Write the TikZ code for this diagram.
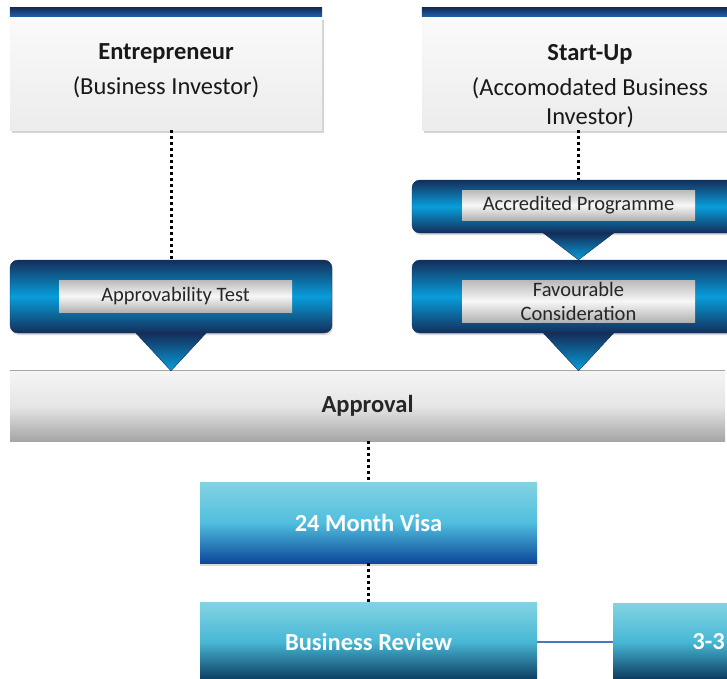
\documentclass[tikz,border=0pt]{standalone}
\usepackage{fontspec}
\setmainfont{Carlito}
\usetikzlibrary{positioning,shadows}

\definecolor{navy}{RGB}{20,46,90}
\definecolor{brightblue}{RGB}{8,158,218}
\definecolor{bandblue}{RGB}{34,98,168}
\definecolor{lightcyan}{RGB}{131,211,227}
\definecolor{midcyan}{RGB}{80,190,222}
\definecolor{deepblue}{RGB}{12,72,155}
\definecolor{deepteal}{RGB}{10,56,94}
\definecolor{linkblue}{RGB}{70,120,190}

\begin{document}
\begin{tikzpicture}[x=1pt,y=-1pt,
	header/.style = {rectangle, minimum height=113pt, top color=gray!4, bottom color=gray!15, drop shadow={shadow xshift=1.5pt, shadow yshift=-3pt, opacity=.35}},
	headtext/.style = {inner sep=0pt, align=center, text=black!90, font=\fontsize{24.5}{29}\selectfont},
	band/.style = {top color=navy, bottom color=bandblue},
	bluebox/.style = {rectangle, rounded corners=8pt, draw=navy, thin, top color=navy, bottom color=navy, middle color=brightblue, drop shadow={shadow xshift=1pt, shadow yshift=-2pt, opacity=.3}},
	graylabel/.style = {rectangle, minimum width=233pt, inner sep=0pt, align=center, text=black!85, font=\fontsize{20.5}{24}\selectfont, top color=gray!55, bottom color=gray!60, middle color=gray!6},
	tri/.style = {top color=navy, bottom color=brightblue, draw=navy, thin},
	visabox/.style = {rectangle, minimum width=337pt, text=white, font=\fontsize{24.5}{29}\selectfont\bfseries, drop shadow={shadow xshift=0pt, shadow yshift=-3pt, opacity=.3}},
	dots/.style = {line width=3pt, dash pattern=on 3pt off 3pt}]
	
	\useasboundingbox (0,0) rectangle (727,678);
	\clip (0,0) rectangle (727,678);
	
	%draws the two headers with their blue bands
	\node[header, minimum width=312pt] (ent) at (166,73.5) {};
	\shade[band] (ent.north west) rectangle ([yshift=9pt]ent.north east);
	\node[headtext, below=27pt of ent.north] (enttext) {\textbf{Entrepreneur}\\[6pt](Business Investor)};
	
	\node[header, minimum width=336pt] (start) at (590,73.5) {};
	\shade[band] (start.north west) rectangle ([yshift=9pt]start.north east);
	\node[headtext, below=27pt of start.north] (starttext) {\textbf{Start-Up}\\[6pt](Accomodated Business\\Investor)};
	
	%the blue test boxes
	\node[bluebox, minimum width=322pt, minimum height=73pt] (appr) at (171,296.5) {};
	\node[graylabel, minimum height=32pt] (apprtext) at (175.5,296) {Approvability Test};
	
	\node[bluebox, minimum width=333pt, minimum height=53pt] (accr) at (578.5,206.5) {};
	\node[graylabel, minimum height=30pt] (accrtext) at (578.5,205) {Accredited Programme};
	
	\node[bluebox, minimum width=333pt, minimum height=73pt] (fav) at (578.5,296.5) {};
	\node[graylabel, minimum height=42pt] (favtext) at (578.5,301) {Favourable\\Consideration};
	
	%the approval bar
	\node[rectangle, minimum width=715pt, minimum height=70pt, top color=gray!8, bottom color=gray!70, middle color=gray!20, font=\fontsize{24.5}{29}\selectfont\bfseries, text=black!85] (approval) at (367.5,406) {Approval};
	\draw[gray!70, thick] (approval.north west) -- (approval.north east);
	
	%the arrow heads between the boxes
	\shade[tri] ([xshift=-35pt]appr.south) -- ([xshift=35pt]appr.south) -- (appr.south |- approval.north) -- cycle;
	\shade[tri] ([xshift=-35pt]accr.south) -- ([xshift=35pt]accr.south) -- (fav.north) -- cycle;
	\shade[tri] ([xshift=-35pt]fav.south) -- ([xshift=35pt]fav.south) -- (fav.south |- approval.north) -- cycle;
	
	%the visa and review boxes
	\node[visabox, minimum height=81pt, top color=lightcyan, bottom color=deepblue, middle color=midcyan] (visa) at (368.5,522.5) {24 Month Visa};
	\node[visabox, minimum height=79pt, top color=lightcyan, bottom color=deepteal, middle color=midcyan!90!teal] (review) at (368.5,641.5) {Business Review};
	\node[visabox, minimum width=191pt, minimum height=77pt, top color=lightcyan, bottom color=deepteal, middle color=midcyan!90!teal] (three) at (708.5,641.5) {3-3};
	
	%dotted connectors
	\draw[dots] (appr.north |- ent.south) -- (appr.north);
	\draw[dots] (accr.north |- start.south) -- (accr.north);
	\draw[dots] (visa.north |- approval.south) -- (visa.north);
	\draw[dots] (visa.south) -- (review.north);
	
	%link to the last box
	\draw[linkblue, line width=2pt] (review.east) -- (three.west);
	
\end{tikzpicture}
\end{document}
